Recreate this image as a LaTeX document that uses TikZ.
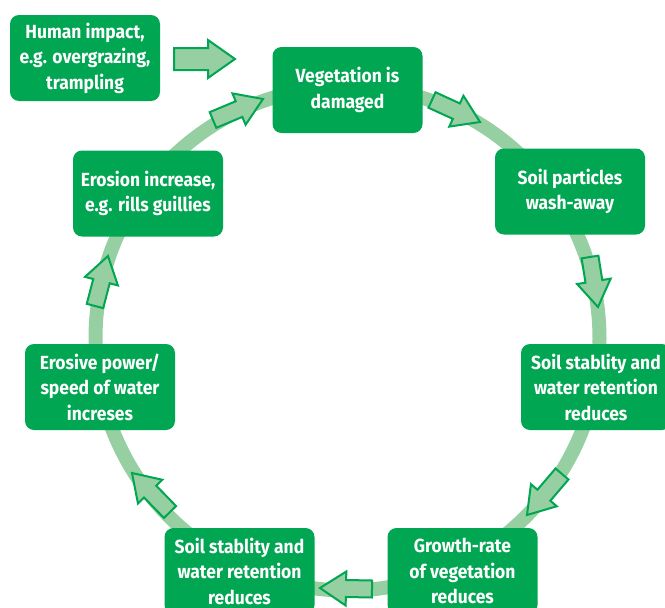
\documentclass[tikz,border=0pt]{standalone}
\usepackage{fontspec}
\setmainfont{Fira Sans}[FakeStretch=0.92]
\usetikzlibrary{calc}
\definecolor{boxgreen}{RGB}{0,166,81}
\definecolor{ringgreen}{RGB}{149,207,162}
\tikzset{
  stage/.style={fill=boxgreen, rounded corners=9pt, minimum width=150pt,
    minimum height=86pt, text=white, align=center, inner sep=0pt,
    font=\fontsize{19}{25.5}\selectfont\bfseries},
  ring/.style={draw=ringgreen, line width=14pt},
  flowarr/.style={fill=ringgreen, draw=boxgreen, line width=2pt, line join=miter},
}
% block arrow from tail #1 to tip #2; #3 half shaft, #4 half head, #5 head length
\newcommand\blockarrow[5]{%
  \draw[flowarr]
    ($(#1)!#3!90:(#2)$) --
    ($(#2)!#5!(#1)!#3!-90:(#1)$) --
    ($(#2)!#5!(#1)!#4!-90:(#1)$) --
    (#2) --
    ($(#2)!#5!(#1)!#4!90:(#1)$) --
    ($(#2)!#5!(#1)!#3!90:(#1)$) --
    ($(#1)!#3!-90:(#2)$) -- cycle;}
\begin{document}
\begin{tikzpicture}[x=1pt,y=-1pt]
\useasboundingbox (0,0) rectangle (665,608);
% the cycle ring
\coordinate (c) at (347.5,338.5);
\draw[ring] (c) circle[radius=252pt];
% stages
\node[stage] (human)   at (85,58)      {Human impact,\\e.g. overgrazing,\\trampling};
\node[stage] (veg)     at (347.5,90)   {Vegetation is\\damaged};
\node[stage] (wash)    at (570,191.5)  {Soil particles\\wash-away};
\node[stage] (stabR)   at (596,387)    {Soil stablity and\\water retention\\reduces};
\node[stage] (growth)  at (462.5,571)  {Growth-rate\\of vegetation\\reduces};
\node[stage] (stabL)   at (239.5,571)  {Soil stablity and\\water retention\\reduces};
\node[stage] (power)   at (100,387)    {Erosive power/\\speed of water\\increses};
\node[stage] (erosion) at (148,193.5)  {Erosion increase,\\e.g. rills guillies};
% arrow ends
\coordinate (h0) at (174,59);  \coordinate (h1) at (235,59);
\coordinate (a1t) at (213,120); \coordinate (a1p) at (263,99);
\coordinate (a2t) at (432,100); \coordinate (a2p) at (480,122);
\coordinate (a3t) at (590,257); \coordinate (a3p) at (598,307);
\coordinate (a4t) at (562,474); \coordinate (a4p) at (527,515);
\coordinate (a5t) at (372,589); \coordinate (a5p) at (320,588);
\coordinate (a6t) at (170,512); \coordinate (a6p) at (132,473);
\coordinate (a7t) at (95,306);  \coordinate (a7p) at (108,256);
% arrows
\blockarrow{h0}{h1}{11pt}{19pt}{27pt}
\blockarrow{a1t}{a1p}{8.5pt}{17pt}{26pt}
\blockarrow{a2t}{a2p}{8.5pt}{17pt}{26pt}
\blockarrow{a3t}{a3p}{8.5pt}{17pt}{26pt}
\blockarrow{a4t}{a4p}{8.5pt}{17pt}{26pt}
\blockarrow{a5t}{a5p}{8.5pt}{17pt}{26pt}
\blockarrow{a6t}{a6p}{8.5pt}{17pt}{26pt}
\blockarrow{a7t}{a7p}{8.5pt}{17pt}{26pt}
\end{tikzpicture}
\end{document}
